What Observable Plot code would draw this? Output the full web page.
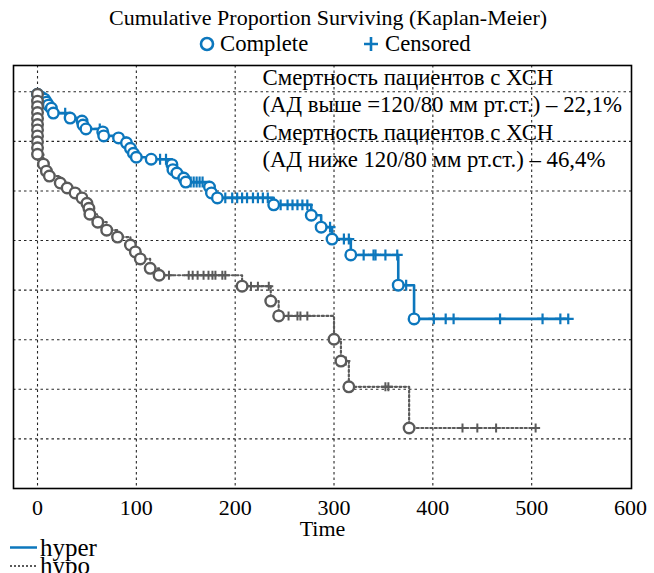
<!DOCTYPE html>
<html><head><meta charset="utf-8">
<script src="https://cdn.jsdelivr.net/npm/d3@7"></script>
<script src="https://cdn.jsdelivr.net/npm/@observablehq/plot@0.6"></script>
<style>
body{margin:0;background:#fff;}
#wrap{position:relative;width:654px;height:573px;font-family:"Liberation Serif","DejaVu Serif",serif;color:#000;overflow:hidden;}
.t{position:absolute;white-space:nowrap;line-height:1;}
#chart{position:absolute;left:0;top:56px;}
</style></head><body>
<div id="wrap">
  <div class="t" id="title" style="left:0;width:656px;text-align:center;top:7px;font-size:22px;">Cumulative Proportion Surviving (Kaplan-Meier)</div>
  <svg class="t" style="left:199px;top:36px" width="16" height="16"><circle cx="8" cy="8" r="6" fill="none" stroke="#0c77bd" stroke-width="2.6"/></svg>
  <div class="t" style="left:220px;top:33px;font-size:22.7px;">Complete</div>
  <svg class="t" style="left:363px;top:36px" width="16" height="16"><path d="M8,1V15M1,8H15" stroke="#0c77bd" stroke-width="2.6"/></svg>
  <div class="t" style="left:385px;top:33px;font-size:22.7px;">Censored</div>
  <div id="chart"></div>
  <svg class="t" style="left:8px;top:540px" width="32" height="33">
    <line x1="2" x2="29" y1="7.5" y2="7.5" stroke="#0c77bd" stroke-width="2.5"/>
    <line x1="2" x2="29" y1="26" y2="26" stroke="#5a5a5a" stroke-width="2" stroke-dasharray="2,2"/>
  </svg>
  <div class="t" style="left:40px;top:535px;font-size:25px;">hyper</div>
  <div class="t" style="left:40px;top:553px;font-size:25px;">hypo</div>
</div>
<script>
// Complete (event) times and survival after each event
const hyperT = [0,4,7,9,11,14,16,33,45,46,49,66,67,82,90,94,97,100,115,136,137,141,148,150,174,176,182,239,277,287,298,317,365,381];
const hyperS = [0.995,0.989,0.985,0.979,0.973,0.967,0.957,0.947,0.941,0.933,0.925,0.919,0.911,0.907,0.897,0.886,0.876,0.868,0.864,0.853,0.843,0.836,0.826,0.818,0.808,0.796,0.786,0.772,0.751,0.727,0.703,0.671,0.610,0.542];
const hyperCensT = [28,63,124,130,155,158,161,164,167,190,197,202,207,212,218,223,228,233,246,253,258,263,268,273,296,310,315,330,340,342,352,364,373,401,413,421,468,511,529,537];
const hyperEnd = 537;

const hypoT = [0,0,0,0,0,0,0,0,0,0,0,6,9,12,23,30,38,45,50,52,53,61,70,81,94,99,104,114,123,207,236,244,300,307,315,376];
const hypoS = [0.995,0.981,0.970,0.958,0.946,0.934,0.923,0.911,0.899,0.887,0.874,0.854,0.840,0.830,0.816,0.806,0.796,0.786,0.775,0.765,0.753,0.737,0.721,0.707,0.691,0.677,0.663,0.644,0.630,0.608,0.578,0.548,0.501,0.457,0.405,0.322];
const hypoCensT = [133,153,157,162,168,173,177,180,187,190,216,223,234,254,263,266,273,312,352,355,430,445,464,504];
const hypoEnd = 504;

const xTicks = [0,100,200,300,400,500,600];
const yGrid = [0.3,0.4,0.5,0.6,0.7,0.8,0.9,1.0];
const annotation = ["Смертность пациентов с ХСН","(АД выше =120/80 мм рт.ст.) – 22,1%","Смертность пациентов с ХСН","(АД ниже 120/80 мм рт.ст.) – 46,4%"];

const BLUE = "#0c77bd", GRAY = "#5a5a5a";
const FONT = '"Liberation Serif","DejaVu Serif",serif';

function stepLine(T, S, end){
  const pts = [{t:0, s:1}];
  T.forEach((t,i)=>pts.push({t, s:S[i]}));
  pts.push({t:end, s:S[S.length-1]});
  return pts;
}
function events(T,S){ return T.map((t,i)=>({t, s:S[i]})); }
function cens(CT, T, S){
  return CT.map(c=>{
    let s = 1;
    for (let i=0;i<T.length;i++) if (T[i] <= c) s = S[i];
    return {t:c, s};
  });
}

const hyperLine = stepLine(hyperT, hyperS, hyperEnd);
const hypoLine = stepLine(hypoT, hypoS, hypoEnd);

const chart = Plot.plot({
  width: 654,
  height: 484,
  marginLeft: 13,
  marginRight: 23,
  marginTop: 9,
  marginBottom: 52,
  style: {fontFamily: FONT, fontSize: "22px", color:"#000", background:"#fff"},
  x: {domain: [-24.3, 601]},
  y: {domain: [0.2, 1.053]},
  marks: [
    Plot.gridX(xTicks.filter(d=>d<600), {stroke:"#000", strokeOpacity:0.85, strokeWidth:1.1, strokeDasharray:"2.5,3"}),
    Plot.gridY(yGrid, {stroke:"#000", strokeOpacity:0.85, strokeWidth:1.1, strokeDasharray:"2.5,3"}),
    Plot.axisX(xTicks, {tickSize:0, tickPadding:11, fontSize:22, fontFamily:FONT, label:"Time", labelAnchor:"center", labelArrow:"none", labelOffset:47}),
    Plot.axisY([], {tickSize:0, label:null}),
    Plot.line(hyperLine, {x:"t", y:"s", curve:"step-after", stroke:BLUE, strokeWidth:2.6}),
    Plot.dot(cens(hyperCensT, hyperT, hyperS), {x:"t", y:"s", symbol:"plus", r:3.6, stroke:BLUE, strokeWidth:2.2}),
    Plot.dot(events(hyperT, hyperS), {x:"t", y:"s", r:5.3, stroke:BLUE, fill:"#fff", strokeWidth:2.4}),
    Plot.line(hypoLine, {x:"t", y:"s", curve:"step-after", stroke:GRAY, strokeWidth:2.2, strokeDasharray:"2,2.5"}),
    Plot.dot(cens(hypoCensT, hypoT, hypoS), {x:"t", y:"s", symbol:"plus", r:3, stroke:GRAY, strokeWidth:2}),
    Plot.dot(events(hypoT, hypoS), {x:"t", y:"s", r:5.3, stroke:GRAY, fill:"#fff", strokeWidth:2.4}),
    Plot.text([annotation.join("\n")], {frameAnchor:"top-left", dx:249, dy:0, textAnchor:"start", lineAnchor:"top", lineHeight:1.2, fontSize:22.8, fontFamily:FONT, fill:"#000"}),
    Plot.frame({stroke:"#000", strokeWidth:1.6})
  ]
});
document.getElementById("chart").appendChild(chart);
</script>
</body></html>
